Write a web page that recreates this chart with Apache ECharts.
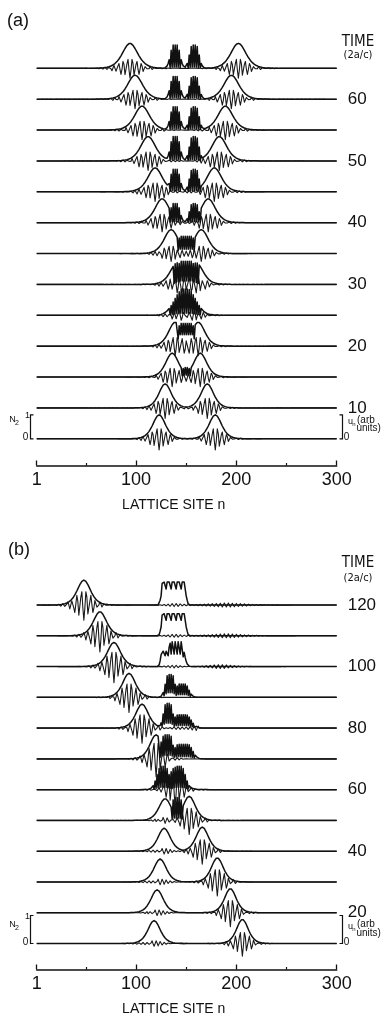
<!DOCTYPE html>
<html><head><meta charset="utf-8">
<script src="https://cdn.jsdelivr.net/npm/echarts@6/dist/echarts.min.js"></script>
<style>html,body{margin:0;padding:0;background:#fff}#c{width:386px;height:1017px}</style>
</head><body><div id="c"></div>
<script>
// ================= DATA =================
const sites = Array.from({length: 300}, (_, i) => i + 1);   // lattice sites n = 1..300
const xTickLabels = [1, 100, 200, 300];
const xMinorTicks = [50, 150, 250];

// ---- Panel (a) ----
const A_times       = [5, 10, 15, 20, 25, 30, 35, 40, 45, 50, 55, 60, 65];
const A_labelTimes  = [10, 20, 30, 40, 50, 60];
const A_leftCenter  = [123, 129, 136, 139, 145, 141, 135, 126, 119, 112, 106, 99, 94];
const A_rightCenter = [179, 171, 164, 162, 156, 160, 165, 172, 178, 183, 189, 195, 202];
const A_pulseHeight = [1.0, 1.0, 1.0, 1.0, 0.5, 0.9, 1.0, 1.0, 1.0, 1.02, 1.0, 1.0, 1.04];
const A_pulseWidth  = [8.4, 8.4, 8.6, 8.8, 9.0, 9.2, 9.4, 9.5, 9.7, 9.8, 10.0, 10.1, 10.2];
const A_uAmp        = [0.46, 0.44, 0.40, 0.37, 0.36, 0.34, 0.34, 0.38, 0.40, 0.40, 0.40, 0.40, 0.41];
const A_uWavelength = 4.5;
// fine-structure blobs: [centre, plateau half-width, edge width, height, modulation depth, modulation period]
const A_blobs = [
  [], [],
  [[150, 2, 3, 0.40, 0.8, 2]],
  [[150, 6, 3, 0.95, 0.5, 2]],
  [[149, 2, 12, 1.10, 0.92, 2]],
  [[150, 5, 6, 0.97, 0.85, 2]],
  [[150, 6, 3, 0.72, 0.75, 2]],
  [[139, 2, 4, 0.80, 0.95, 2], [158, 2, 4, 0.80, 0.95, 2]],
  [[139, 2, 4, 0.94, 0.95, 2], [158, 2, 4, 0.94, 0.95, 2]],
  [[139, 2, 4, 1.02, 0.95, 2], [158, 2, 4, 1.02, 0.95, 2]],
  [[139, 2, 4, 0.97, 0.95, 2], [158, 2, 4, 0.97, 0.95, 2]],
  [[139, 2, 4, 0.95, 0.95, 2], [158, 2, 4, 0.95, 0.95, 2]],
  [[139, 2, 4, 0.97, 0.95, 2], [158, 2, 4, 0.97, 0.95, 2]]
];

// ---- Panel (b) ----
const B_times       = [10, 20, 30, 40, 50, 60, 70, 80, 90, 100, 110, 120];
const B_labelTimes  = [20, 40, 60, 80, 100, 120];
const B_fastCenter  = [206, 194, 181, 166, 153, 139, 120, 106, 93, 78, 64, 48];
const B_fastHeight  = [0.86, 0.86, 0.86, 0.86, 0.86, 0.80, 0.86, 0.86, 0.86, 0.86, 0.86, 0.89];
const B_fastWidth   = [7.8, 7.8, 8.0, 8.2, 8.2, 8.2, 8.2, 8.4, 8.4, 8.8, 8.8, 8.8];
const B_fastUAmp    = [0.45, 0.50, 0.50, 0.46, 0.50, 0.58, 0.62, 0.54, 0.54, 0.58, 0.58, 0.54];
const B_slowCenter  = [118, 121, 124, 128, 129, null, null, null, null, null, null, null];
const B_slowHeight  = [0.82, 0.82, 0.82, 0.82, 0.78, 0, 0, 0, 0, 0, 0, 0];
const B_slowWidth   = [8.2, 8.2, 8.2, 8.2, 8.2, 8, 8, 8, 8, 8, 8, 8];
const B_slowUAmp    = [0.1, 0.1, 0.1, 0.1, 0.1, 0, 0, 0, 0, 0, 0, 0];
const B_uWavelength = 4.6;
const B_blobs = [
  [], [], [], [],
  [[141, 3, 3, 0.82, 0.9, 2]],
  [[127, 2, 6, 0.84, 0.9, 2], [143, 2, 6, 0.84, 0.9, 2]],
  [[131, 3, 4, 0.86, 0.85, 2], [147, 5, 6, 0.52, 0.85, 2]],
  [[132, 2, 4, 0.89, 0.8, 2], [146, 4, 7, 0.48, 0.8, 2]],
  [[134, 2, 4, 0.82, 0.8, 2], [146, 3, 5, 0.48, 0.8, 2]],
  [[140, 5, 4, 0.89, 0.5, 3], [129, 3, 2, 0.55, 0.3, 3]],
  [[137.5, 11, 2, 0.79, 0.3, 5]],
  [[137.5, 11, 2, 0.82, 0.3, 5]]
];
// small outgoing ripples in u_n: [centre, width, amplitude]
const B_ripples = [
  [], [], [], [], [],
  [[135, 8, 0.08]],
  [[140, 8, 0.08]],
  [[160, 5, 0.08], [140, 6, 0.05]],
  [[172, 8, 0.07], [140, 6, 0.05]],
  [[184, 10, 0.07], [138, 6, 0.05]],
  [[190, 14, 0.07], [138, 6, 0.05]],
  [[190, 15, 0.07], [138, 6, 0.05]]
];

// ================= LAYOUT (pixels) =================
const FF = '"Liberation Sans", Arial, sans-serif';
const FN = '"Liberation Sans Narrow", "DejaVu Sans Condensed", "Liberation Sans", sans-serif';
const GL = 36.7, GW = 300;
const PA = {top: 10, axisY: 465.5, base0: 438.8, spacing: 30.875, unit: 24};
const PB = {top: 540, axisY: 969.5, base0: 943.5, spacing: 30.77, unit: 28};

// ================= helpers =================
const sech = x => 1 / Math.cosh(x);
function pulse(n, c, h, w) { if (c == null || !h) return 0; const s = sech((n - c) / w); return h * s * s; }
function wave(n, c, a, w, lam) { if (c == null || !a) return 0; return a * sech((n - c) / w) * Math.sin(2 * Math.PI * (n - c) / lam - Math.PI / 2); }
function blobEnv(n, b) {
  const [c, hw, e, h] = b;
  const dist = Math.max(0, Math.abs(n - c) - hw);
  return h * Math.exp(-Math.pow(dist / e, 2));
}
// N2 at a site: smooth pulses, overlaid by dense fine structure where blobs are present
function density(n, pulses, blobs) {
  let high = Math.max(0, ...pulses);
  let low = null;
  blobs.forEach(b => {
    const env = blobEnv(n, b), h = b[3], d = b[4], p = b[5];
    high = Math.max(high, env);
    if (n % p === 0 && env >= 0.25 * h) low = Math.max(low == null ? 0 : low, env * (1 - d));
  });
  return low == null ? high : low;
}
const r4 = v => Math.round(v * 10000) / 10000;

const series = [];
function addTrace(gi, off, n2fn, ufn) {
  series.push({type: 'line', xAxisIndex: gi * 2, yAxisIndex: gi, showSymbol: false, silent: true,
    lineStyle: {color: '#1a1a1a', width: 1.1, join: 'round'},
    data: sites.map(n => [n, r4(off + ufn(n))])});
  series.push({type: 'line', xAxisIndex: gi * 2, yAxisIndex: gi, showSymbol: false, silent: true,
    lineStyle: {color: '#111', width: 1.5, join: 'round'},
    data: sites.map(n => [n, r4(off + n2fn(n))])});
}

const sA = PA.spacing / PA.unit, sB = PB.spacing / PB.unit;
A_times.forEach((t, k) => {
  const off = k * sA;
  addTrace(0, off,
    n => density(n, [pulse(n, A_leftCenter[k], A_pulseHeight[k], A_pulseWidth[k]),
                     pulse(n, A_rightCenter[k], A_pulseHeight[k], A_pulseWidth[k])], A_blobs[k]),
    n => wave(n, A_leftCenter[k], A_uAmp[k], A_pulseWidth[k] * 0.85, A_uWavelength) +
         wave(n, A_rightCenter[k], A_uAmp[k], A_pulseWidth[k] * 0.85, A_uWavelength));
});
B_times.forEach((t, k) => {
  const off = k * sB;
  addTrace(1, off,
    n => density(n, [pulse(n, B_fastCenter[k], B_fastHeight[k], B_fastWidth[k]),
                     pulse(n, B_slowCenter[k], B_slowHeight[k], B_slowWidth[k])], B_blobs[k]),
    n => wave(n, B_fastCenter[k], B_fastUAmp[k], B_fastWidth[k] * 0.8, B_uWavelength) +
         wave(n, B_slowCenter[k], B_slowUAmp[k], B_slowWidth[k], 4.2) +
         B_ripples[k].reduce((s, r) => s + wave(n, r[0], r[2], r[1], 4.0), 0));
});

function grid(P) { return {left: GL, width: GW, top: P.top, height: P.axisY - P.top, outerBoundsMode: 'none'}; }
function xAxes(gi) {
  return [
    {gridIndex: gi, type: 'value', min: 1, max: 300, position: 'bottom',
     axisLine: {show: true, onZero: false, lineStyle: {color: '#111', width: 1.5}},
     axisTick: {show: true, inside: true, length: 5, customValues: xTickLabels, lineStyle: {color: '#111', width: 1.3}},
     axisLabel: {show: true, customValues: xTickLabels, margin: 6, color: '#111', fontSize: 18, fontFamily: FF, hideOverlap: false},
     splitLine: {show: false},
     name: 'LATTICE SITE n', nameLocation: 'middle', nameGap: 33,
     nameTextStyle: {color: '#111', fontSize: 14, fontFamily: FF, padding: [0, 26, 0, 0]}},
    {gridIndex: gi, type: 'value', min: 1, max: 300, position: 'bottom',
     axisLine: {show: false, onZero: false},
     axisTick: {show: true, inside: true, length: 2.5, customValues: xMinorTicks, lineStyle: {color: '#111', width: 1.2}},
     axisLabel: {show: false}, splitLine: {show: false}}
  ];
}
function yAxis(gi, P, times, labelTimes) {
  const s = P.spacing / P.unit;
  return {gridIndex: gi, type: 'value', position: 'right',
    min: -(P.axisY - P.base0) / P.unit, max: (P.base0 - P.top) / P.unit,
    axisLine: {show: false}, axisTick: {show: false}, splitLine: {show: false},
    axisLabel: {show: true, margin: 11, color: '#111', fontSize: 17, fontFamily: FF,
      customValues: labelTimes.map(t => times.indexOf(t) * s),
      formatter: v => String(times[Math.round(v / s)])}};
}

// ---- annotations ----
const G = [];
function txt(x, y, text, size, align, family) {
  G.push({type: 'text', x: x, y: y, silent: true,
    style: {text: text, font: size + 'px ' + (family || FF), fill: '#111', textAlign: align || 'center', textVerticalAlign: 'middle'}});
}
function poly(pts) {
  G.push({type: 'polyline', silent: true, shape: {points: pts}, style: {stroke: '#111', lineWidth: 1.2, fill: null}});
}
function brackets(P) {
  const b = P.base0, t = P.base0 - P.unit;
  poly([[33.5, t], [30.5, t], [30.5, b], [33.5, b]]);
  txt(27.5, t + 1, '1', 9);
  txt(25.5, b - 1.5, '0', 10);
  txt(12.5, b - 19, 'N', 9);
  txt(17, b - 15.5, '2', 7);
  poly([[339.5, t], [342.5, t], [342.5, b], [339.5, b]]);
  txt(346.5, b - 1.5, '0', 10);
  txt(350.5, b - 17, 'u', 9);
  txt(354, b - 14.5, 'n', 6);
  txt(357, b - 19, '(arb', 10, 'left');
  txt(356.5, b - 10.5, 'units)', 10, 'left');
}
txt(7, 21, '(a)', 18, 'left');
txt(358, 42.5, 'TIME', 15, 'center', FN);
txt(358, 55, '(2a/c)', 11, 'center', FN);
txt(8, 550, '(b)', 18, 'left');
txt(358, 563, 'TIME', 15, 'center', FN);
txt(358, 578.5, '(2a/c)', 11, 'center', FN);
brackets(PA);
brackets(PB);

const chart = echarts.init(document.getElementById('c'), null, {renderer: 'canvas'});
chart.setOption({
  animation: false,
  backgroundColor: '#fff',
  grid: [grid(PA), grid(PB)],
  xAxis: [...xAxes(0), ...xAxes(1)],
  yAxis: [yAxis(0, PA, A_times, A_labelTimes), yAxis(1, PB, B_times, B_labelTimes)],
  series: series,
  graphic: G
});
</script></body></html>
